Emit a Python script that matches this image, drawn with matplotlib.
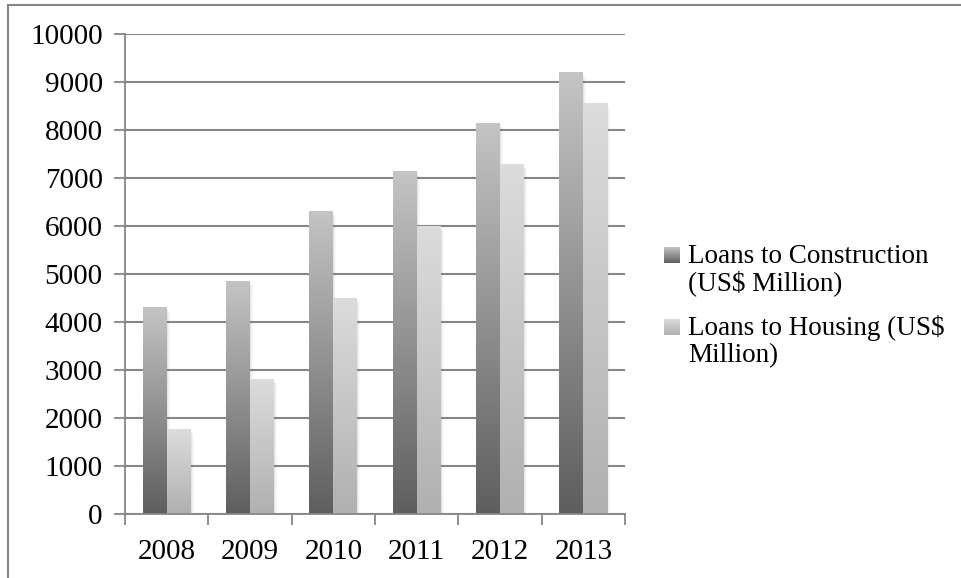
import numpy as np
import matplotlib
matplotlib.use("Agg")
import matplotlib.pyplot as plt
from matplotlib.colors import LinearSegmentedColormap
from matplotlib.patches import Rectangle
from matplotlib.lines import Line2D

years = ["2008", "2009", "2010", "2011", "2012", "2013"]
construction = [4300, 4840, 6300, 7130, 8130, 9190]
housing = [1760, 2800, 4500, 5990, 7280, 8550]
series_names = ["Loans to Construction\n(US$ Million)", "Loans to Housing (US$\nMillion)"]
yticks = list(range(0, 10001, 1000))

plt.rcParams['font.family'] = ['Liberation Serif', 'DejaVu Serif']

W, H = 961, 578
fig = plt.figure(figsize=(W / 100, H / 100), dpi=100)
ax = fig.add_axes([125 / W, 1 - 514.3 / H, 500 / W, 480 / H])

cmap_c = LinearSegmentedColormap.from_list("c", ["#5e5e5e", "#c4c4c4"])
cmap_h = LinearSegmentedColormap.from_list("h", ["#b0b0b0", "#dcdcdc"])
grad = np.linspace(0, 1, 256).reshape(-1, 1)

bw = 0.288
x = np.arange(len(years))
gray = "#868686"


def grad_bars(xs, vals, cmap):
    bars = ax.bar(xs, vals, width=bw, align='edge', color='none', edgecolor='none', zorder=3)
    for b in bars:
        x0, y0 = b.get_x(), b.get_y()
        w, h = b.get_width(), b.get_height()
        # soft shadow
        for k, a in enumerate([0.10, 0.07, 0.04]):
            off = 0.012 * (k + 1)
            ax.add_patch(Rectangle((x0 + off, y0), w, h - 30 * (k + 1), facecolor='#808080',
                                   edgecolor='none', alpha=a, zorder=2.5))
        ax.imshow(grad, cmap=cmap, origin='lower', aspect='auto',
                  extent=(x0, x0 + w, y0, y0 + h), zorder=3, interpolation='bilinear')


grad_bars(x - bw, construction, cmap_c)
grad_bars(x, housing, cmap_h)

ax.set_xlim(-0.5, len(years) - 0.5)
ax.set_ylim(0, 10000)
ax.set_yticks(yticks)
ax.set_yticklabels([str(v) for v in yticks], fontsize=21)
ax.set_xticks(x)
ax.set_xticklabels(years, fontsize=21)
ax.set_xticks(np.arange(-0.5, len(years)), minor=True)
ax.tick_params(axis='x', which='major', length=0, pad=18)
ax.tick_params(axis='x', which='minor', length=8, width=1.3, color=gray, direction='out')
ax.tick_params(axis='y', length=8, width=1.3, color=gray, direction='out', pad=8)
ax.grid(axis='y', color=gray, linewidth=1.5, zorder=1)
ax.set_axisbelow(True)
for s in ['top', 'right']:
    ax.spines[s].set_visible(False)
for s in ['left', 'bottom']:
    ax.spines[s].set_color(gray)
    ax.spines[s].set_linewidth(1.3)
    ax.spines[s].set_zorder(4)

# legend
leg_y = [263, 335]
for i, (name, cm) in enumerate(zip(series_names, [cmap_c, cmap_h])):
    lax = fig.add_axes([664 / W, 1 - (leg_y[i]) / H, 16 / W, 16 / H])
    lax.imshow(grad, cmap=cm, origin='lower', aspect='auto', extent=(0, 1, 0, 1))
    lax.axis('off')
    lines = name.split("\n")
    for j, ln in enumerate(lines):
        fig.text(688 / W, 1 - (leg_y[i] + 27 * j) / H, ln, fontsize=19.5, va='baseline', ha='left')

# outer border
fig.add_artist(Line2D([8 / W, 1], [1 - 5 / H, 1 - 5 / H], color=gray, linewidth=1.5, transform=fig.transFigure))
fig.add_artist(Line2D([8 / W, 8 / W], [0, 1 - 5 / H], color=gray, linewidth=1.5, transform=fig.transFigure))

fig.savefig("out.png", dpi=100)
